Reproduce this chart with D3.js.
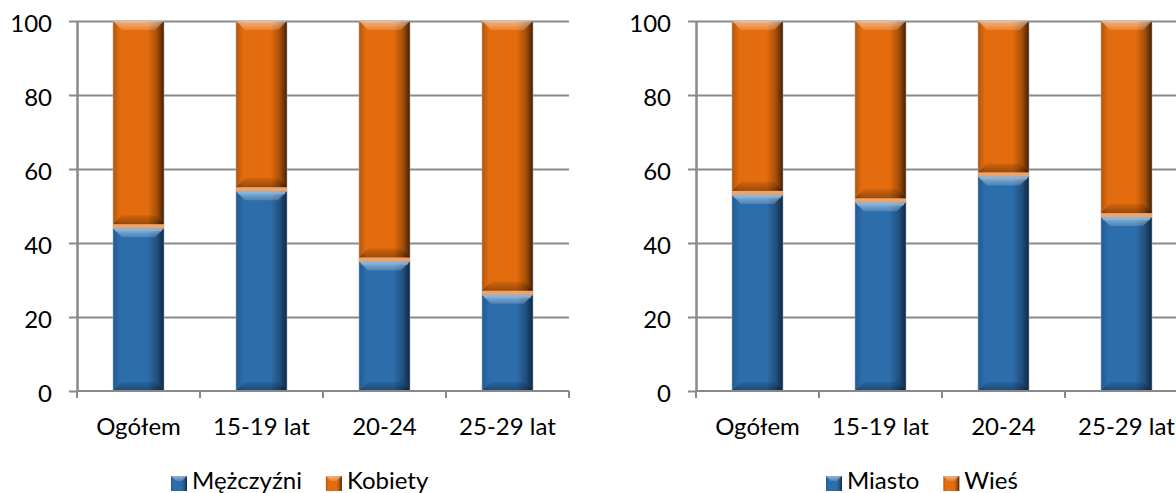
<!DOCTYPE html>
<html><head><meta charset="utf-8">
<script src="https://cdn.jsdelivr.net/npm/d3@7"></script>
<style>
body{margin:0;background:#fff}
svg{display:block}
text{font-family:Lato,"Noto Sans",sans-serif;fill:#000}
</style>
</head><body>
<svg id="c" width="1176" height="493"></svg>
<script>
// ---- data ----
const categories = ["Ogółem", "15-19 lat", "20-24", "25-29 lat"];
const yTicks = [0, 20, 40, 60, 80, 100];
const seriesLeft = ["Mężczyźni", "Kobiety"];
const mezczyzni = [44, 54, 35, 26];
const kobiety = [56, 46, 65, 74];
const seriesRight = ["Miasto", "Wieś"];
const miasto = [53, 51, 58, 47];
const wies = [47, 49, 42, 53];

// ---- setup ----
const svg = d3.select("#c");
const defs = svg.append("defs");
const FS = 24;

function hGrad(id, stops) {
  const g = defs.append("linearGradient").attr("id", id).attr("x1", 0).attr("x2", 1).attr("y1", 0).attr("y2", 0);
  stops.forEach(s => g.append("stop").attr("offset", s[0]).attr("stop-color", s[1]));
}
function vGrad(id, stops) {
  const g = defs.append("linearGradient").attr("id", id).attr("x1", 0).attr("x2", 0).attr("y1", 0).attr("y2", 1);
  stops.forEach(s => g.append("stop").attr("offset", s[0]).attr("stop-color", s[1]).attr("stop-opacity", s[2]));
}
hGrad("gBlue", [[0, "#245a8e"], [0.14, "#2c6dab"], [0.68, "#2c6dab"], [0.86, "#21507e"], [1, "#0f2843"]]);
hGrad("gOrange", [[0, "#b2560b"], [0.14, "#e36c0e"], [0.68, "#e36c0e"], [0.86, "#a74f08"], [1, "#452003"]]);
vGrad("gTop", [[0, "#ffffff", 0.5], [1, "#ffffff", 0.15]]);
vGrad("gBot", [[0, "#000000", 0.08], [1, "#000000", 0.32]]);

const palette = { blue: "url(#gBlue)", orange: "url(#gOrange)" };
const stripColor = { blue: "#7fb6e6", orange: "#eaa56c" };

const yTop = 21, yBot = 391;
const y = d3.scaleLinear().domain([0, 100]).range([yBot, yTop]);

function drawChart(cfg, names, a, b) {
  const g = svg.append("g");
  const x = d3.scaleBand().domain(categories).range([cfg.x0, cfg.x1]).paddingInner(0.585).paddingOuter(0.2925);
  const W = cfg.x1 - cfg.x0;

  // gridlines
  g.append("g").attr("transform", `translate(${cfg.x0},0)`)
    .call(d3.axisLeft(y).tickValues(yTicks.filter(t => t > 0)).tickSize(-W).tickFormat(""))
    .call(s => s.select(".domain").remove())
    .call(s => s.selectAll("line").attr("stroke", "#898989").attr("stroke-width", 2));

  // y axis with outside ticks and labels
  g.append("g").attr("transform", `translate(${cfg.x0},0)`)
    .call(d3.axisLeft(y).tickValues(yTicks).tickSize(8).tickSizeOuter(0).tickPadding(17))
    .call(s => s.select(".domain").attr("stroke", "#898989").attr("stroke-width", 2.5))
    .call(s => s.selectAll("line").attr("stroke", "#898989").attr("stroke-width", 2))
    .call(s => s.selectAll("text").attr("font-size", FS).attr("font-family", "Lato").attr("fill", "#000").attr("dy", "0.45em"));

  // bars
  const rows = categories.map((c, i) => ({ cat: c, s0: a[i], s1: b[i] }));
  const stack = d3.stack().keys(["s0", "s1"])(rows);
  const colors = ["blue", "orange"];
  const bw = x.bandwidth();
  const bev = 9;
  stack.forEach((layer, li) => {
    const col = colors[li];
    const lg = g.append("g");
    layer.forEach(d => {
      const x0 = x(d.data.cat), yT = y(d[1]), yB = y(d[0]);
      const h = yB - yT;
      const seg = lg.append("g");
      seg.append("rect").attr("x", x0).attr("y", yT).attr("width", bw).attr("height", h)
        .attr("fill", palette[col]).attr("stroke", "rgba(170,185,200,0.5)").attr("stroke-width", 1);
      const bottomStrip = li === 1 && d[0] > 0 ? 4 : 0;
      const yBe = yB - bottomStrip;
      seg.append("path").attr("d", `M${x0},${yT}H${x0 + bw}L${x0 + bw - bev},${yT + bev}H${x0 + bev}Z`).attr("fill", "url(#gTop)");
      seg.append("path").attr("d", `M${x0},${yBe}H${x0 + bw}L${x0 + bw - bev},${yBe - bev}H${x0 + bev}Z`).attr("fill", "url(#gBot)");
      if (bottomStrip) {
        seg.append("rect").attr("x", x0).attr("y", yBe).attr("width", bw).attr("height", bottomStrip).attr("fill", stripColor[col]);
      }
      if (li === 0) {
        seg.append("rect").attr("x", x0 + 2).attr("y", yT).attr("width", bw - 4).attr("height", 3).attr("fill", stripColor[col]).attr("opacity", 0.8);
      }
    });
  });

  // x axis line + boundary ticks
  const step = x.step();
  g.append("line").attr("x1", cfg.x0).attr("x2", cfg.x1).attr("y1", yBot).attr("y2", yBot)
    .attr("stroke", "#898989").attr("stroke-width", 2);
  g.selectAll(".bt").data(d3.range(categories.length + 1)).join("line")
    .attr("x1", i => cfg.x0 + i * step).attr("x2", i => cfg.x0 + i * step)
    .attr("y1", yBot).attr("y2", yBot + 7).attr("stroke", "#898989").attr("stroke-width", 2);

  // category labels
  g.selectAll(".cl").data(categories).join("text")
    .attr("x", d => x(d) + bw / 2).attr("y", 435).attr("text-anchor", "middle")
    .attr("font-size", FS).text(d => d);

  // legend
  let lx = cfg.legendX;
  names.forEach((n, i) => {
    g.append("rect").attr("x", lx).attr("y", 476).attr("width", 16).attr("height", 15).attr("fill", palette[colors[i]]);
    g.append("path").attr("d", `M${lx},${476}H${lx + 16}L${lx + 11},${481}H${lx + 5}Z`).attr("fill", "url(#gTop)");
    const t = g.append("text").attr("x", lx + 21).attr("y", 489).attr("font-size", FS).text(n);
    lx = lx + 21 + t.node().getComputedTextLength() + 24;
  });
}

drawChart({ x0: 77, x1: 569, legendX: 171 }, seriesLeft, mezczyzni, kobiety);
drawChart({ x0: 696, x1: 1188, legendX: 826 }, seriesRight, miasto, wies);
</script>
</body></html>
